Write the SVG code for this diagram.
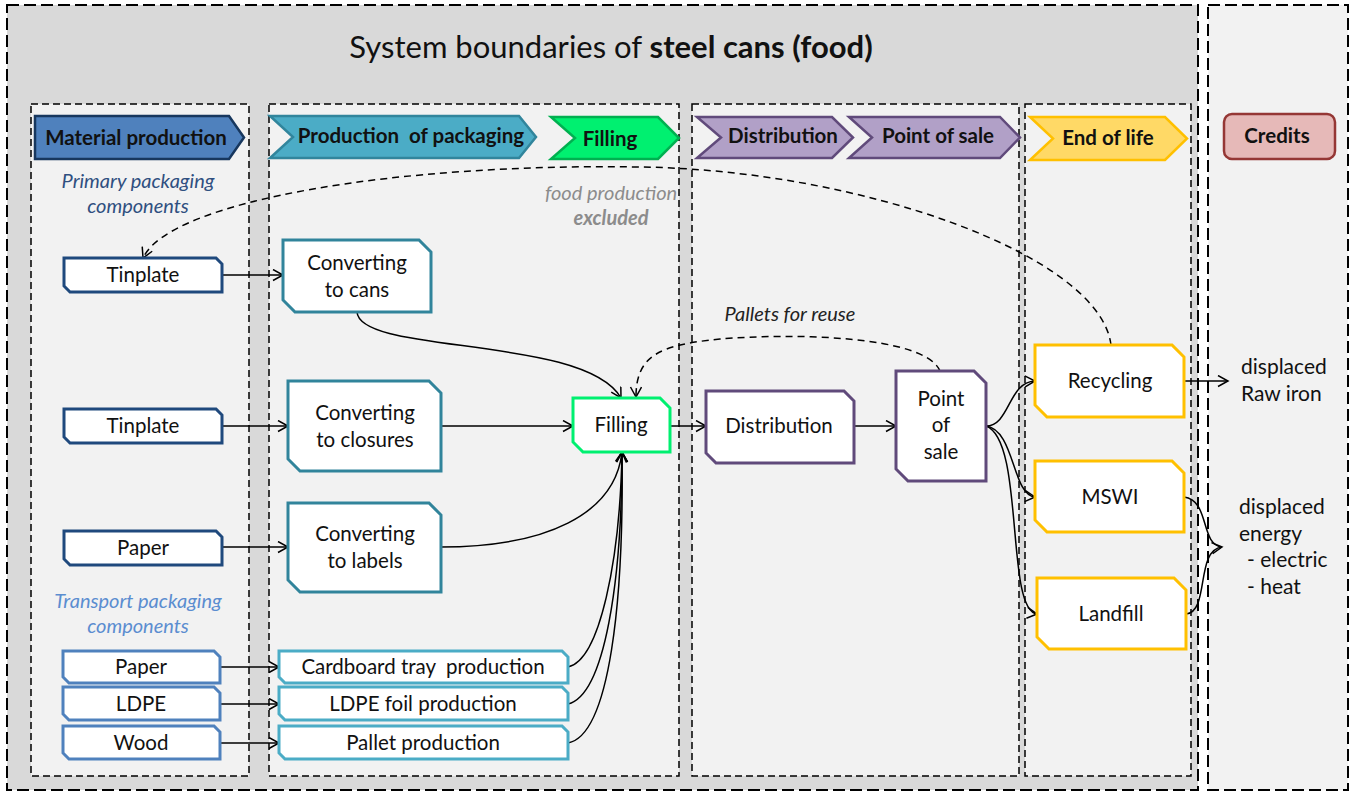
<svg xmlns="http://www.w3.org/2000/svg" width="1357" height="792" viewBox="0 0 1357 792">
  <style>
    text { font-family: Lato, "Open Sans", "Liberation Sans", sans-serif; fill: #111; }
    .frame-outer { fill: #d9d9d9; stroke: #000; stroke-width: 2; stroke-dasharray: 12 5; }
    .frame-credit { fill: #f2f2f2; stroke: #000; stroke-width: 2; stroke-dasharray: 12 5; }
    .col { fill: #f2f2f2; stroke: #000; stroke-width: 1.5; stroke-dasharray: 7 4; }
    .hdr { font-size: 20.5px; font-weight: bold; text-anchor: middle; }
    .lbl { font-size: 20.5px; text-anchor: middle; }
    .note { font-size: 20px; font-style: italic; text-anchor: middle; }
    .cred { font-size: 21px; }
    .mat { fill: #fff; stroke: #1f497d; stroke-width: 3; }
    .mat2 { fill: #fff; stroke: #4f81bd; stroke-width: 3; }
    .conv { fill: #fff; stroke: #31849b; stroke-width: 3; }
    .conv2 { fill: #fff; stroke: #4bacc6; stroke-width: 3; }
    .fill { fill: #fff; stroke: #00f070; stroke-width: 3; }
    .dist { fill: #fff; stroke: #604a7b; stroke-width: 3; }
    .eol { fill: #fff; stroke: #ffc000; stroke-width: 3; }
    .flow { fill: none; stroke: #000; stroke-width: 1.5; marker-end: url(#arr); }
    .flow-plain { fill: none; stroke: #000; stroke-width: 1.5; }
    .dash { fill: none; stroke: #000; stroke-width: 1.5; stroke-dasharray: 7 5; marker-end: url(#arr); }
  </style>
  <defs>
    <marker id="arr" markerUnits="userSpaceOnUse" markerWidth="14" markerHeight="14" refX="11" refY="6" orient="auto">
      <path d="M1,0.5 L11,6 L1,11.5" fill="none" stroke="#000" stroke-width="1.5"/>
    </marker>
  </defs>

  <!-- frames -->
  <g id="frames">
    <rect class="frame-outer" x="7" y="5" width="1191" height="785"/>
    <rect class="frame-credit" x="1208" y="5" width="140" height="785"/>
    <rect class="col" x="31" y="104" width="218" height="672"/>
    <rect class="col" x="269" y="104" width="410" height="672"/>
    <rect class="col" x="692" y="104" width="327" height="672"/>
    <rect class="col" x="1025" y="104" width="166" height="672"/>
  </g>

  <text id="title" x="611" y="58" text-anchor="middle" font-size="31">System boundaries of <tspan font-weight="bold">steel cans (food)</tspan></text>

  <!-- stage headers -->
  <g id="hdr-material">
    <polygon points="35,116 229,116 244,137.5 229,159 35,159" fill="#4f81bd" stroke="#17375e" stroke-width="2.5"/>
    <text class="hdr" x="136" y="145">Material production</text>
  </g>
  <g id="hdr-packaging">
    <polygon points="270,116 519,116 536,137 519,158 270,158 293,137" fill="#4bacc6" stroke="#31859c" stroke-width="2.5"/>
    <text class="hdr" x="411" y="143" xml:space="preserve">Production  of packaging</text>
  </g>
  <g id="hdr-filling">
    <polygon points="551,117 658,117 679,138 658,159 551,159 575,138" fill="#00f070" stroke="#00b050" stroke-width="2.5"/>
    <text class="hdr" x="610" y="146">Filling</text>
  </g>
  <g id="hdr-distribution">
    <polygon points="697,117 832,117 853,137.5 832,158 697,158 721,137.5" fill="#b1a0c7" stroke="#604a7b" stroke-width="2.5"/>
    <text class="hdr" x="783" y="143">Distribution</text>
  </g>
  <g id="hdr-pos">
    <polygon points="849,117 1000,117 1020,137.5 1000,158 849,158 872,137.5" fill="#b1a0c7" stroke="#604a7b" stroke-width="2.5"/>
    <text class="hdr" x="938" y="143">Point of sale</text>
  </g>
  <g id="hdr-eol">
    <polygon points="1030,117 1165,117 1187,138.5 1165,160 1030,160 1053,138.5" fill="#ffd966" stroke="#ffc000" stroke-width="2.5"/>
    <text class="hdr" x="1108" y="145">End of life</text>
  </g>
  <g id="hdr-credits">
    <rect x="1224" y="114" width="111" height="45" rx="8" fill="#e6b9b8" stroke="#953735" stroke-width="2.5"/>
    <text class="hdr" x="1277" y="143">Credits</text>
  </g>

  <!-- annotations -->
  <g id="notes">
    <text class="note" x="138" y="188" style="fill:#2f4f80">Primary packaging</text>
    <text class="note" x="138" y="213" style="fill:#2f4f80">components</text>
    <text class="note" x="138" y="608" style="fill:#5b8dd0">Transport packaging</text>
    <text class="note" x="138" y="633" style="fill:#5b8dd0">components</text>
    <text class="note" x="611" y="200" style="fill:#8c8c8c">food production</text>
    <text class="note" x="611" y="225" font-weight="bold" style="fill:#8c8c8c">excluded</text>
    <text class="note" x="790" y="321" style="fill:#222">Pallets for reuse</text>
  </g>

  <!-- connectors -->
  <g id="connectors">
    <path class="flow" d="M222,275 L283,275"/>
    <path class="flow" d="M222,426 L288,426"/>
    <path class="flow" d="M222,547 L288,547"/>
    <path class="flow" d="M220,667 L279,667"/>
    <path class="flow" d="M220,704 L279,704"/>
    <path class="flow" d="M220,743 L279,743"/>
    <path class="flow" d="M357,312 C360,355 585,335 621,398"/>
    <path class="flow" d="M441,426 L573,426"/>
    <path class="flow" d="M441,547 C545,547 615,515 622,452"/>
    <path class="flow" d="M568,667 C600,660 620,560 622,452"/>
    <path class="flow" d="M568,704 C605,695 622,580 622,452"/>
    <path class="flow" d="M568,743 C610,735 624,600 622,452"/>
    <path class="flow" d="M670,426 L706,426"/>
    <path class="flow" d="M854,426 L896,426"/>
    <path class="flow" d="M986,426 C1010,426 1008,382 1035,381"/>
    <path class="flow" d="M986,426 C1015,430 1012,495 1035,497"/>
    <path class="flow" d="M986,426 C1025,440 1005,610 1037,614"/>
    <path class="flow" d="M1184,381 L1228,381"/>
    <path class="flow-plain" d="M1184,497 C1210,500 1200,545 1222,547"/>
    <path class="flow" d="M1186,614 C1210,612 1195,550 1222,547"/>
    <path class="dash" d="M1111,345 C1100,255 860,170 640,167 C400,163 170,200 143,258"/>
    <path class="dash" d="M940,371 C925,335 790,333 720,339 C660,345 636,355 636,397"/>
  </g>

  <!-- material inputs -->
  <g id="tinplate-cans"><polygon class="mat" points="64,258 216,258 222,264 222,292 70,292 64,286"/><text class="lbl" x="143" y="282">Tinplate</text></g>
  <g id="tinplate-closures"><polygon class="mat" points="64,409 216,409 222,415 222,443 70,443 64,437"/><text class="lbl" x="143" y="433">Tinplate</text></g>
  <g id="paper-labels"><polygon class="mat" points="64,531 216,531 222,537 222,565 70,565 64,559"/><text class="lbl" x="143" y="555">Paper</text></g>
  <g id="paper-tray"><polygon class="mat2" points="63,651 214,651 220,657 220,683 69,683 63,677"/><text class="lbl" x="141" y="674">Paper</text></g>
  <g id="ldpe"><polygon class="mat2" points="63,687 214,687 220,693 220,720 69,720 63,714"/><text class="lbl" x="141" y="711">LDPE</text></g>
  <g id="wood"><polygon class="mat2" points="63,726 214,726 220,732 220,759 69,759 63,753"/><text class="lbl" x="141" y="750">Wood</text></g>

  <!-- packaging production -->
  <g id="conv-cans"><polygon class="conv" points="283,240 419,240 431,252 431,312 295,312 283,300"/><text class="lbl" x="357" y="270">Converting</text><text class="lbl" x="357" y="297">to cans</text></g>
  <g id="conv-closures"><polygon class="conv" points="288,381 429,381 441,393 441,471 300,471 288,459"/><text class="lbl" x="365" y="420">Converting</text><text class="lbl" x="365" y="447">to closures</text></g>
  <g id="conv-labels"><polygon class="conv" points="288,503 429,503 441,515 441,592 300,592 288,580"/><text class="lbl" x="365" y="541">Converting</text><text class="lbl" x="365" y="568">to labels</text></g>
  <g id="cardboard-tray"><polygon class="conv2" points="279,651 562,651 568,657 568,683 285,683 279,677"/><text class="lbl" x="423" y="674" xml:space="preserve">Cardboard tray  production</text></g>
  <g id="ldpe-foil"><polygon class="conv2" points="279,687 562,687 568,693 568,720 285,720 279,714"/><text class="lbl" x="423" y="711">LDPE foil production</text></g>
  <g id="pallet"><polygon class="conv2" points="279,726 562,726 568,732 568,759 285,759 279,753"/><text class="lbl" x="423" y="750">Pallet production</text></g>

  <!-- filling, distribution, sale -->
  <g id="filling"><polygon class="fill" points="573,398 660,398 670,408 670,452 583,452 573,442"/><text class="lbl" x="621" y="432">Filling</text></g>
  <g id="distribution"><polygon class="dist" points="706,391 844,391 854,401 854,463 716,463 706,453"/><text class="lbl" x="779" y="433">Distribution</text></g>
  <g id="point-of-sale"><polygon class="dist" points="896,371 974,371 986,383 986,481 908,481 896,469"/><text class="lbl" x="941" y="406">Point</text><text class="lbl" x="941" y="432">of</text><text class="lbl" x="941" y="459">sale</text></g>

  <!-- end of life -->
  <g id="recycling"><polygon class="eol" points="1035,345 1172,345 1184,357 1184,417 1047,417 1035,405"/><text class="lbl" x="1110" y="388">Recycling</text></g>
  <g id="mswi"><polygon class="eol" points="1035,461 1172,461 1184,473 1184,532 1047,532 1035,520"/><text class="lbl" x="1110" y="504">MSWI</text></g>
  <g id="landfill"><polygon class="eol" points="1037,578 1174,578 1186,590 1186,649 1049,649 1037,637"/><text class="lbl" x="1111" y="621">Landfill</text></g>

  <!-- credits -->
  <g id="credit-iron">
    <text class="cred" x="1241" y="374">displaced</text>
    <text class="cred" x="1241" y="401">Raw iron</text>
  </g>
  <g id="credit-energy">
    <text class="cred" x="1239" y="514">displaced</text>
    <text class="cred" x="1239" y="541">energy</text>
    <text class="cred" x="1247" y="567">- electric</text>
    <text class="cred" x="1247" y="594">- heat</text>
  </g>
</svg>
